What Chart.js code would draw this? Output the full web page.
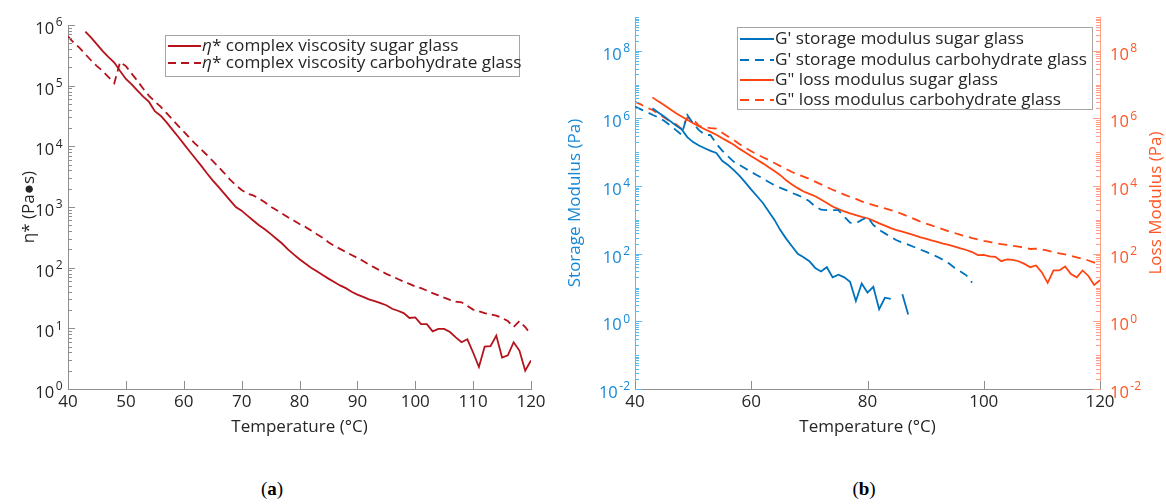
<!DOCTYPE html>
<html>
<head>
<meta charset="utf-8">
<script src="https://cdn.jsdelivr.net/npm/chart.js@4.4.1/dist/chart.umd.min.js"></script>
<style>
  body { margin: 0; background: #fff; width: 1166px; height: 504px; overflow: hidden; position: relative; font-family: "Open Sans", sans-serif; }
  canvas { position: absolute; top: 0; }
  #chartA { left: 0; }
  #chartB { left: 540px; }
  .legend { position: absolute; background: #fff; border: 1px solid #a6a6a6; box-sizing: border-box; color: #262626; font-size: 17.2px; }
  .legend .row { position: absolute; left: 0; height: 20px; line-height: 20px; white-space: nowrap; }
  .legend svg { position: absolute; left: 0; top: 9px; }
  .legend .txt { position: absolute; top: 0; }
  .panel { position: absolute; top: 478px; font-family: "Liberation Serif", serif; font-size: 19px; color: #000; transform: translateX(-50%); }
</style>
</head>
<body>
<canvas id="chartA" width="560" height="450"></canvas>
<canvas id="chartB" width="626" height="450"></canvas>
<div class="legend" id="legendA" style="left:165px;top:35px;width:355px;height:42px"></div>
<div class="legend" id="legendB" style="left:737px;top:27px;width:356px;height:83px"></div>
<div class="panel" style="left:272px">(<b>a</b>)</div>
<div class="panel" style="left:864px">(<b>b</b>)</div>
<script>
// temperatures (°C), shared by every series
const temps = [40, 41, 42, 43, 44, 45, 46, 47, 48, 49,
  50, 51, 52, 53, 54, 55, 56, 57, 58, 59,
  60, 61, 62, 63, 64, 65, 66, 67, 68, 69,
  70, 71, 72, 73, 74, 75, 76, 77, 78, 79,
  80, 81, 82, 83, 84, 85, 86, 87, 88, 89,
  90, 91, 92, 93, 94, 95, 96, 97, 98, 99,
  100, 101, 102, 103, 104, 105, 106, 107, 108, 109,
  110, 111, 112, 113, 114, 115, 116, 117, 118, 119, 120];

// (a) complex viscosity, Pa·s
const viscSugar = [null, null, null, 7.8e5, 6.2e5, 4.8e5, 3.7e5, 2.95e5, 2.4e5, 1.74e5,
  1.29e5, 1.05e5, 8.3e4, 6.6e4, 5.4e4, 3.8e4, 3.2e4, 2.5e4, 1.9e4, 1.45e4,
  1.1e4, 8300, 6300, 4800, 3600, 2750, 2140, 1660, 1290, 1000,
  870, 720, 600, 500, 430, 360, 300, 250, 200, 166,
  138, 117, 100, 87, 76, 66, 58, 51, 46, 40,
  36, 33, 30, 28, 26, 24, 21, 19.5, 17.8, 14.8,
  15.1, 11.7, 11.7, 8.9, 9.8, 9.8, 8.7, 7.1, 5.9, 6.6,
  4.0, 2.3, 5.0, 5.1, 7.6, 3.3, 3.6, 5.9, 4.3, 2.0, 2.95];
const viscCarb = [6.5e5, 5.1e5, 4.2e5, 3.3e5, 2.6e5, 2.1e5, 1.74e5, 1.38e5, 1.1e5, 2.45e5,
  2.1e5, 1.58e5, 1.2e5, 8.9e4, 6.8e4, 5.5e4, 4.5e4, 3.55e4, 2.8e4, 2.2e4,
  1.74e4, 1.38e4, 1.1e4, 8900, 7200, 5750, 4570, 3630, 2820, 2290,
  1910, 1660, 1550, 1380, 1200, 1020, 890, 780, 680, 600,
  525, 470, 410, 355, 310, 263, 229, 204, 182, 162,
  145, 129, 112, 100, 89, 79, 72, 65, 59, 54,
  49, 46, 42, 38, 35, 32, 29.5, 27.5, 26.9, 23.4,
  20.4, 19.1, 17.8, 17.0, 16.2, 14.8, 13.2, 10.5, 13.2, 10.5, 7.9];

// (b) storage modulus G', Pa
const gStorSugar = [null, null, null, 2.0e6, 1.51e6, 1.15e6, 8.5e5, 6.3e5, 4.8e5, 2.8e5,
  2.0e5, 1.58e5, 1.32e5, 1.1e5, 9.5e4, 5.6e4, 4.2e4, 2.95e4, 2.0e4, 1.26e4,
  7900, 5000, 3160, 1780, 1000, 500, 280, 166, 100, 79,
  60, 38, 30, 40, 20, 24, 20, 14.8, 4.0, 13.2,
  7.1, 10.5, 2.3, 5.0, 4.6, null, 6.3, 1.6];
const gStorCarb = [2.24e6, 1.86e6, 1.55e6, 1.29e6, 1.07e6, 8.5e5, 6.3e5, 4.6e5, 3.3e5, 1.26e6,
  7.1e5, 4.5e5, 3.3e5, 3.2e5, 1.78e5, 1.12e5, 7.6e4, 5.2e4, 4.2e4, 3.3e4,
  2.6e4, 2.1e4, 1.66e4, 1.32e4, 1.07e4, 8900, 7600, 6300, 5400, 4500,
  3550, 2500, 2000, 1950, 1950, 1950, 1260, 830, 790, 1000,
  1200, 710, 510, 400, 316, 251, 214, 186, 158, 135,
  115, 98, 81, 66, 52, 38, 30, 23, 14];

// (b) loss modulus G'', Pa
const gLossSugar = [null, null, null, 4.2e6, 3.2e6, 2.5e6, 1.9e6, 1.45e6, 1.15e6, 9.1e5,
  7.2e5, 5.9e5, 4.8e5, 4.0e5, 3.3e5, 2.6e5, 2.1e5, 1.66e5, 1.26e5, 9.8e4,
  7.6e4, 6.0e4, 4.7e4, 3.6e4, 2.8e4, 2.1e4, 1.48e4, 1.12e4, 8700, 6900,
  5900, 5000, 4000, 3160, 2500, 2090, 1780, 1550, 1380, 1230,
  1120, 950, 790, 680, 575, 500, 450, 400, 355, 310,
  280, 250, 224, 200, 182, 162, 145, 129, 112, 91,
  93, 83, 81, 60, 68, 66, 60, 50, 40, 45,
  28, 13.8, 32, 32, 42, 25, 20, 32, 22, 12, 16.6];
const gLossCarb = [3.1e6, 2.6e6, 2.1e6, 1.78e6, 1.38e6, 1.07e6, 8.3e5, 6.8e5, 5.0e5, 1.05e6,
  9.5e5, 6.0e5, 5.5e5, 5.2e5, 5.0e5, 3.8e5, 2.95e5, 2.3e5, 1.74e5, 1.35e5,
  1.07e5, 8.7e4, 7.1e4, 5.9e4, 4.8e4, 3.9e4, 3.2e4, 2.6e4, 2.2e4, 1.9e4,
  1.62e4, 1.35e4, 1.12e4, 9300, 7800, 6600, 5600, 4800, 4200, 3550,
  3100, 2750, 2450, 2190, 1950, 1740, 1480, 1260, 1070, 910,
  790, 690, 600, 525, 460, 410, 360, 325, 290, 263,
  240, 224, 204, 191, 182, 170, 162, 151, 138, 141,
  135, 123, 112, 102, 95, 87, 78, 71, 63, 55, 52];

const namesA = ['η* complex viscosity sugar glass', 'η* complex viscosity carbohydrate glass'];
const namesB = ["G' storage modulus sugar glass", "G' storage modulus carbohydrate glass",
  'G" loss modulus sugar glass', 'G" loss modulus carbohydrate glass'];

const darkRed = '#b5121b';
const blue = '#0072bd';
const orange = '#ff4411';
const axisGray = '#8f8f8f';
const textDark = '#262626';
const blueAxis = '#56bbee', blueText = '#1588d8';
const orangeAxis = '#ff9f85', orangeText = '#ff5522';

Chart.defaults.font.family = '"Open Sans", sans-serif';
Chart.defaults.font.size = 17;

// MATLAB style ticks pointing into the plot
const innerTicks = {
  id: 'innerTicks',
  afterDraw(chart, args, opts) {
    const ctx = chart.ctx;
    const area = chart.chartArea;
    ctx.save();
    ctx.lineWidth = 1;
    for (const scale of Object.values(chart.scales)) {
      ctx.strokeStyle = scale.options.border.color;
      for (const t of scale.ticks) {
        let len = opts.xLen;
        if (scale.type === 'logarithmic') {
          const e = Math.floor(Math.log10(t.value) + 1e-9);
          const m = t.value / Math.pow(10, e);
          if (Math.abs(m - Math.round(m)) > 1e-6) continue;
          len = (Math.round(m) === 1 && e % opts.majorEvery === 0) ? opts.majorLen : opts.minorLen;
        }
        const p = Math.round(scale.getPixelForValue(t.value)) + 0.5;
        ctx.beginPath();
        if (scale.position === 'left') {
          ctx.moveTo(area.left, p); ctx.lineTo(area.left + len, p);
        } else if (scale.position === 'right') {
          ctx.moveTo(area.right, p); ctx.lineTo(area.right - len, p);
        } else {
          ctx.moveTo(p, area.bottom); ctx.lineTo(p, area.bottom - len);
        }
        ctx.stroke();
      }
    }
    ctx.restore();
  }
};

// 10 with a raised exponent at the labelled decades
const powLabels = {
  id: 'powLabels',
  afterDraw(chart, args, opts) {
    const ctx = chart.ctx;
    const area = chart.chartArea;
    const big = '16.5px "Open Sans", sans-serif';
    const small = '12px "Open Sans", sans-serif';
    ctx.save();
    ctx.textAlign = 'left';
    ctx.textBaseline = 'alphabetic';
    for (const scale of Object.values(chart.scales)) {
      const o = opts[scale.id];
      if (!o) continue;
      ctx.fillStyle = o.color;
      for (const t of scale.ticks) {
        const e = Math.log10(t.value);
        const r = Math.round(e);
        if (Math.abs(e - r) > 1e-6 || r % opts.every !== 0) continue;
        const p = scale.getPixelForValue(t.value);
        const exp = String(r);
        ctx.font = big;
        const w10 = ctx.measureText('10').width;
        ctx.font = small;
        const we = ctx.measureText(exp).width;
        const x0 = scale.position === 'left' ? area.left - o.pad - we - 1.5 - w10 : area.right + o.pad;
        ctx.font = big;
        ctx.fillText('10', x0, p + 9);
        ctx.font = small;
        ctx.fillText(exp, x0 + w10 + 1.5, p + 1.2);
      }
    }
    ctx.restore();
  }
};

// right hand axis title, reading bottom to top
const sideTitle = {
  id: 'sideTitle',
  afterDraw(chart, args, opts) {
    if (!opts.text) return;
    const { ctx, chartArea } = chart;
    ctx.save();
    ctx.translate(opts.x, (chartArea.top + chartArea.bottom) / 2);
    ctx.rotate(-Math.PI / 2);
    ctx.font = '17px "Open Sans", sans-serif';
    ctx.fillStyle = opts.color;
    ctx.textAlign = 'center';
    ctx.textBaseline = 'middle';
    ctx.fillText(opts.text, 0, 0);
    ctx.restore();
  }
};

function line(label, data, color, dash, axis) {
  return {
    label: label, data: data, yAxisID: axis || 'y',
    borderColor: color, backgroundColor: color, borderWidth: 1.8,
    borderDash: dash, pointRadius: 0, tension: 0, fill: false
  };
}

const chartA = new Chart(document.getElementById('chartA'), {
  type: 'line',
  data: {
    labels: temps,
    datasets: [
      line(namesA[0], viscSugar, darkRed, []),
      line(namesA[1], viscCarb, darkRed, [8, 5])
    ]
  },
  options: {
    responsive: false,
    animation: false,
    layout: { padding: { top: 25, right: 29, left: 0, bottom: 0 } },
    plugins: {
      legend: { display: false },
      tooltip: { enabled: false },
      innerTicks: { majorEvery: 1, majorLen: 7, minorLen: 4, xLen: 8 },
      powLabels: { every: 1, y: { color: textDark, pad: 5.5 } }
    },
    scales: {
      x: {
        type: 'linear', min: 40, max: 120,
        ticks: { stepSize: 10, color: textDark, padding: 3, maxRotation: 0 },
        grid: { display: false, drawTicks: false },
        border: { color: axisGray },
        title: { display: true, text: 'Temperature (°C)', color: textDark, padding: { bottom: 13 } },
        afterFit: s => { s.height = 61; }
      },
      y: {
        type: 'logarithmic', min: 1, max: 1e6,
        ticks: { display: false, autoSkip: false },
        grid: { display: false, drawTicks: false },
        border: { color: axisGray },
        title: { display: true, text: 'η* (Pa●s)', color: textDark, padding: { top: 19 } },
        afterFit: s => { s.width = 68; }
      }
    }
  },
  plugins: [innerTicks, powLabels]
});

const chartB = new Chart(document.getElementById('chartB'), {
  type: 'line',
  data: {
    labels: temps,
    datasets: [
      line(namesB[0], gStorSugar, blue, []),
      line(namesB[1], gStorCarb, blue, [9, 6]),
      line(namesB[2], gLossSugar, orange, [], 'y1'),
      line(namesB[3], gLossCarb, orange, [9, 6], 'y1')
    ]
  },
  options: {
    responsive: false,
    animation: false,
    layout: { padding: { top: 17, right: 0, left: 0, bottom: 0 } },
    plugins: {
      legend: { display: false },
      tooltip: { enabled: false },
      innerTicks: { majorEvery: 2, majorLen: 7, minorLen: 4, xLen: 8 },
      powLabels: { every: 2, y: { color: blueText, pad: 5 }, y1: { color: orangeText, pad: 10 } },
      sideTitle: { text: 'Loss Modulus (Pa)', color: orangeText, x: 616 }
    },
    scales: {
      x: {
        type: 'linear', min: 40, max: 120,
        ticks: { stepSize: 20, color: textDark, padding: 3, maxRotation: 0 },
        grid: { display: false, drawTicks: false },
        border: { color: axisGray },
        title: { display: true, text: 'Temperature (°C)', color: textDark, padding: { bottom: 13 } },
        afterFit: s => { s.height = 61; }
      },
      y: {
        type: 'logarithmic', position: 'left', min: 1e-2, max: 1e9,
        ticks: { display: false, autoSkip: false },
        grid: { display: false, drawTicks: false },
        border: { color: blueAxis },
        title: { display: true, text: 'Storage Modulus (Pa)', color: blueText, padding: { top: 25 } },
        afterFit: s => { s.width = 95; }
      },
      y1: {
        type: 'logarithmic', position: 'right', min: 1e-2, max: 1e9,
        ticks: { display: false, autoSkip: false },
        grid: { display: false, drawTicks: false },
        border: { color: orangeAxis },
        afterFit: s => { s.width = 66; }
      }
    }
  },
  plugins: [innerTicks, powLabels, sideTitle]
});

// legends boxed inside the plots, built from the datasets
function buildLegend(id, chart, rowTops, sample, textX) {
  const box = document.getElementById(id);
  chart.data.datasets.forEach((ds, i) => {
    const row = document.createElement('div');
    row.className = 'row';
    row.style.top = rowTops[i] + 'px';
    const dash = ds.borderDash.length ? ds.borderDash.join(' ') : 'none';
    const text = ds.label.replace('η', '<i>η</i>');
    row.innerHTML = '<svg width="' + textX + '" height="4"><line x1="' + sample[0] + '" y1="2" x2="' + sample[1] +
      '" y2="2" stroke="' + ds.borderColor + '" stroke-width="2" stroke-dasharray="' + dash + '"/></svg>' +
      '<span class="txt" style="left:' + textX + 'px">' + text + '</span>';
    box.appendChild(row);
  });
}
buildLegend('legendA', chartA, [-1, 16], [2, 35], 36);
buildLegend('legendB', chartB, [0, 21, 41, 61], [2, 36], 37);
</script>
</body>
</html>
